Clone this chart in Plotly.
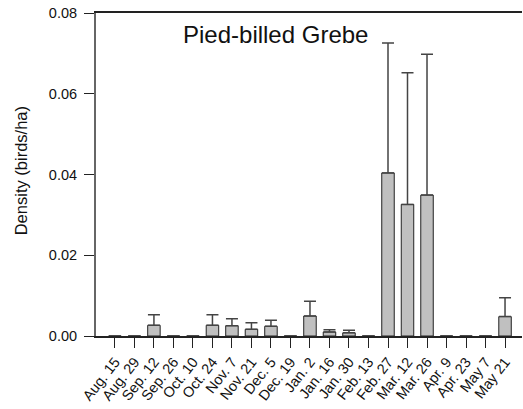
import plotly.graph_objects as go

dates = ["Aug. 15", "Aug. 29", "Sep. 12", "Sep. 26", "Oct. 10", "Oct. 24", "Nov. 7",
         "Nov. 21", "Dec. 5", "Dec. 19", "Jan. 2", "Jan. 16", "Jan. 30", "Feb. 13",
         "Feb. 27", "Mar. 12", "Mar. 26", "Apr. 9", "Apr. 23", "May 7", "May 21"]
density = [0, 0, 0.00265, 0, 0, 0.00265, 0.00256, 0.00165, 0.0024, 0, 0.00495, 0.001,
           0.0008, 0, 0.0404, 0.0326, 0.0349, 0, 0, 0, 0.0048]
err_upper = [0, 0, 0.00263, 0, 0, 0.00263, 0.00174, 0.00165, 0.0015, 0, 0.00365, 0.00057,
             0.0006, 0, 0.0322, 0.0326, 0.0349, 0, 0, 0, 0.0047]
y_ticks = [0, 0.02, 0.04, 0.06, 0.08]

FONT = "Liberation Sans, Arial, Helvetica, sans-serif"

fig = go.Figure()
fig.add_trace(go.Bar(
    x=list(range(len(dates))), y=density, width=0.64,
    marker=dict(color="#c0c0c0", line=dict(color="#222222", width=1)),
    error_y=dict(type="data", symmetric=False, array=err_upper,
                 arrayminus=[0] * len(dates), color="#444444", thickness=1.5, width=6),
))

fig.update_layout(
    template="none",
    width=523, height=409,
    margin=dict(l=96, r=1, t=13, b=73),
    plot_bgcolor="white", paper_bgcolor="white",
    showlegend=False,
    font=dict(family=FONT, color="#111111"),
    xaxis=dict(
        tickmode="array", tickvals=list(range(len(dates))), ticktext=dates,
        tickangle=-52, ticks="outside", ticklen=10, tickcolor="#222222", tickwidth=1,
        tickfont=dict(size=14.5, family=FONT),
        range=[-0.97, 20.87], showgrid=False, zeroline=False, automargin=False,
        showline=True, linecolor="#222222", linewidth=1.5, mirror=True,
    ),
    yaxis=dict(
        range=[0, 0.08], tickvals=y_ticks, tickformat=".2f",
        ticks="outside", ticklen=10, tickcolor="#222222", tickwidth=1,
        tickfont=dict(size=14.5, family=FONT), automargin=False,
        ticklabelstandoff=4,
        showgrid=False, zeroline=False,
        showline=True, linecolor="#666666", linewidth=2,
    ),
    annotations=[
        dict(text="Pied-billed Grebe", xref="paper", yref="paper", x=0.421, y=0.932,
             xanchor="center", yanchor="middle", showarrow=False,
             font=dict(size=24, family=FONT, color="#111111")),
        dict(text="Density (birds/ha)", xref="paper", yref="paper", x=-0.176, y=0.51,
             xanchor="center", yanchor="middle", showarrow=False, textangle=-90,
             font=dict(size=16.5, family=FONT, color="#111111")),
    ],
)

fig.write_html("out.html", config={"displayModeBar": False},
               post_script="document.body.style.margin='0';")
